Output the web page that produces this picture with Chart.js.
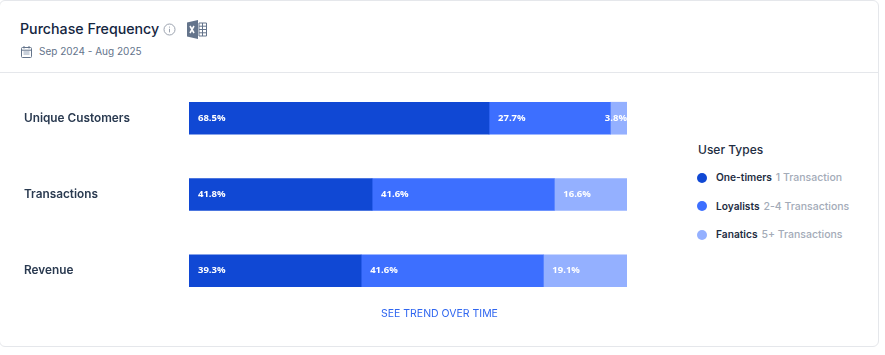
<!DOCTYPE html>
<html>
<head>
<meta charset="utf-8">
<script src="https://cdn.jsdelivr.net/npm/chart.js@4"></script>
<style>
	html, body { margin: 0; padding: 0; background: #fff; }
	body { width: 885px; height: 355px; position: relative; overflow: hidden; font-family: Inter, sans-serif; }
	.card { position: absolute; left: -1px; top: 0; width: 878px; height: 345px; border: 1px solid #e5e7eb; border-radius: 6px; }
	.divider { position: absolute; left: 0; top: 72px; width: 878px; height: 1px; background: #e5e7eb; }
	.title { position: absolute; left: 20px; top: 19px; font-size: 14.2px; line-height: 20px; font-weight: 500; color: #14263f; white-space: nowrap; }
	.date { position: absolute; left: 39px; top: 44px; font-size: 10px; line-height: 15px; color: #64748b; white-space: nowrap; }
	.icon { position: absolute; }
	#chartBox { position: absolute; left: 0; top: 73px; width: 640px; height: 243px; }
	.legend { position: absolute; left: 698px; top: 141px; }
	.legend h4 { margin: 0 0 12px; font-size: 12px; line-height: 17px; font-weight: 500; color: #1e2d42; }
	.item { position: relative; height: 28.5px; line-height: 15px; padding-left: 18px; font-size: 10.2px; white-space: nowrap; }
	.item i { position: absolute; left: -1px; top: 2.5px; width: 10px; height: 10px; border-radius: 50%; }
	.item b { font-weight: 600; color: #1e2d42; }
	.item span { color: #a3abb8; font-weight: 500; font-size: 10.5px; margin-left: 1px; }
	.trend { position: absolute; left: 381px; top: 306px; font-size: 10.5px; line-height: 15px; color: #2f66f0; white-space: nowrap; }
</style>
</head>
<body>
<div class="card"></div>
<div class="divider"></div>
<div class="title">Purchase Frequency</div>
<svg class="icon" style="left:163px;top:23px" width="13" height="13" viewBox="0 0 13 13">
	<circle cx="6.5" cy="6.5" r="5.5" fill="none" stroke="#9ca3af" stroke-width="1"/>
	<path d="M6.5 5.8v3.6M6.5 3.6v1" stroke="#9ca3af" stroke-width="1"/>
</svg>
<svg class="icon" style="left:187px;top:20px" width="20" height="19" viewBox="0 0 20 19">
	<path d="M0 2.5 11 0v19L0 16.5z" fill="#64748b"/>
	<path d="M12 3h7.5v13H12z" fill="none" stroke="#64748b" stroke-width="1"/>
	<path d="M12 6.2h7.5M12 9.5h7.5M12 12.8h7.5M15.5 3v13" stroke="#64748b" stroke-width="1"/>
	<path d="M3 6l4 7M7 6l-4 7" stroke="#fff" stroke-width="1.6"/>
</svg>
<svg class="icon" style="left:21px;top:46px" width="11" height="12" viewBox="0 0 11 12">
	<rect x=".5" y="1.5" width="10" height="10" rx="1" fill="none" stroke="#64748b"/>
	<path d="M.5 4.2h10M3 0v2.5M8 0v2.5" stroke="#64748b"/>
	<path d="M2.5 6h6M2.5 8h6" stroke="#94a3b8"/>
</svg>
<div class="date">Sep 2024 - Aug 2025</div>
<div id="chartBox"><canvas id="chart"></canvas></div>
<div class="legend" id="legend"><h4>User Types</h4></div>
<div class="trend">SEE TREND OVER TIME</div>
<script>
const categories = ['Unique Customers', 'Transactions', 'Revenue'];
const seriesNames = ['One-timers', 'Loyalists', 'Fanatics'];
const seriesNotes = ['1 Transaction', '2-4 Transactions', '5+ Transactions'];
const seriesColors = ['#1048d4', '#3d6fff', '#94b0ff'];
const oneTimers = [68.5, 41.8, 39.3];
const loyalists = [27.7, 41.6, 41.6];
const fanatics = [3.8, 16.6, 19.1];
const seriesValues = [oneTimers, loyalists, fanatics];

const barLabels = {
	id: 'barLabels',
	afterDatasetsDraw(chart) {
		const ctx = chart.ctx;
		ctx.save();
		ctx.font = '700 9.5px "Open Sans"';
		ctx.fillStyle = '#fff';
		ctx.textBaseline = 'middle';
		chart.data.datasets.forEach(function (ds, i) {
			chart.getDatasetMeta(i).data.forEach(function (bar, j) {
				const text = ds.data[j].toFixed(1) + '%';
				const w = ctx.measureText(text).width;
				// short segments push the label back so it stays inside the bar
				ctx.fillText(text, Math.min(bar.base + 9, bar.x - w), bar.y);
			});
		});
		ctx.restore();
	},
};

new Chart(document.getElementById('chart'), {
	type: 'bar',
	data: {
		labels: categories,
		datasets: seriesValues.map(function (values, i) {
			return {
				label: seriesNames[i],
				data: values,
				backgroundColor: seriesColors[i],
				barThickness: 32,
			};
		}),
	},
	options: {
		indexAxis: 'y',
		responsive: true,
		maintainAspectRatio: false,
		animation: false,
		layout: { padding: { left: 24, right: 13, top: 1 } },
		plugins: { legend: { display: false }, tooltip: { enabled: false } },
		scales: {
			x: { stacked: true, min: 0, max: 100, display: false },
			y: {
				stacked: true,
				grid: { display: false },
				border: { display: false },
				afterFit(axis) {
					axis.width = 165;
				},
				ticks: {
					crossAlign: 'far',
					padding: 0,
					color: '#2a3a50',
					font: { family: 'Inter', size: 11.8, weight: '600' },
				},
			},
		},
	},
	plugins: [barLabels],
});

const legend = document.getElementById('legend');
seriesNames.forEach(function (name, i) {
	const item = document.createElement('div');
	item.className = 'item';
	item.innerHTML = '<i style="background:' + seriesColors[i] + '"></i><b>' + name + '</b> <span>' + seriesNotes[i] + '</span>';
	legend.appendChild(item);
});
</script>
</body>
</html>
